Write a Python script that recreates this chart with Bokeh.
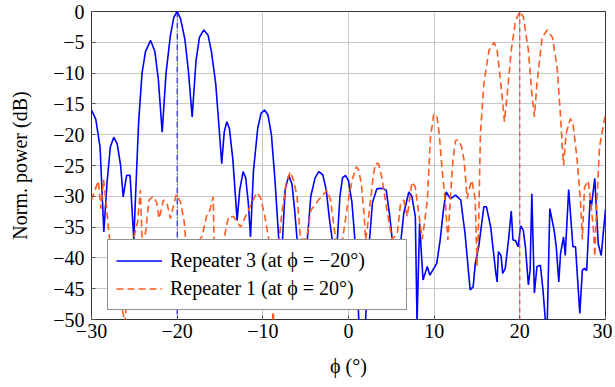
from bokeh.plotting import figure
from bokeh.models import Range1d, Legend, LegendItem, Span, FixedTicker
from bokeh.embed import file_html
from bokeh.resources import INLINE

# Repeater 3 (steered to -20 deg)
r3_phi = [-30, -29.5, -29.0, -28.56, -28.2, -27.8, -27.4, -27.0, -26.6, -26.3, -25.9, -25.5,
          -25.06, -24.8, -24.5, -24.1, -23.7, -23.1, -22.6, -22.2, -21.75, -21.3, -20.8, -20.4,
          -20.0, -19.6, -19.1, -18.7, -18.25, -17.8, -17.4, -16.9, -16.4, -16.0, -15.5, -15.1,
          -14.8, -14.5, -14.2, -13.9, -13.5, -13.0, -12.7, -12.3, -12.0, -11.7, -11.44, -11.1,
          -10.6, -10.2, -9.8, -9.4, -9.0, -8.6, -8.14, -7.9, -7.7, -7.4, -6.97, -6.6, -6.3,
          -6.0, -5.6, -5.2, -4.8, -4.4, -3.9, -3.47, -3.0, -2.6, -2.2, -1.9, -1.6, -1.3, -1.0,
          -0.7, -0.35, 0.0, 0.4, 0.8, 1.2, 1.6, 2.0, 2.4, 2.8, 3.3, 3.9, 4.4, 4.8, 5.1, 5.5,
          5.9, 6.45, 7.04, 7.4, 7.8, 8.0, 8.3, 8.7, 9.2, 9.5, 10.3, 10.7, 11.1, 11.4, 11.9,
          12.5, 13.1, 13.6, 14.2, 14.55, 14.8, 15.2, 15.8, 16.1, 16.6, 17.2, 17.35, 17.5, 17.8,
          18.0, 18.3, 18.7, 19.0, 19.2, 19.5, 19.8, 20.1, 20.4, 20.65, 21.0, 21.2, 21.4, 21.7,
          22.0, 22.4, 22.7, 23.0, 23.2, 23.5, 24.0, 24.25, 24.55, 24.75, 25.1, 25.3, 25.7,
          26.2, 26.5, 27.0, 27.3, 27.55, 27.8, 28.2, 28.35, 28.75, 29.15, 29.5, 30.0]
r3_db = [-16.0, -17.5, -22.0, -35.8, -28.0, -22.0, -20.4, -21.5, -25.0, -30.1, -26.6, -26.6,
         -37.1, -28.0, -18.0, -10.0, -6.5, -4.7, -6.5, -11.0, -19.6, -10.0, -4.0, -1.0,
         0.0, -1.2, -4.5, -9.5, -17.1, -8.0, -4.2, -3.0, -3.8, -6.5, -11.7, -19.0,
         -24.7, -19.5, -17.9, -19.0, -24.0, -33.9, -29.0, -26.0, -27.0, -31.0, -36.6, -26.0,
         -19.0, -16.5, -16.0, -16.8, -20.0, -27.0, -37.0, -45.0, -37.0, -29.0, -26.6, -28.0, -32.0,
         -37.0, -45.0, -42.0, -37.0, -30.0, -27.0, -26.0, -26.5, -29.0, -34.0, -37.0, -43.0, -37.0, -30.0,
         -27.0, -26.6, -27.5, -31.0, -38.0, -50.0, -55.0, -50.0, -38.0, -31.0, -28.8, -28.7, -29.0, -33.0, -37.0, -42.0,
         -40.0, -32.8, -29.3, -30.0, -33.3, -50.5, -34.4, -43.6, -41.4, -42.8, -40.9, -37.1, -32.0, -29.3, -30.4,
         -29.8, -30.6, -36.0, -45.2, -44.7, -40.9, -38.2, -31.7, -31.7, -35.0, -42.5, -43.9, -39.0, -39.6,
         -42.5, -41.7, -36.8, -32.4, -37.1, -37.2, -38.2, -34.8, -35.5, -38.2, -44.4, -42.0, -29.6, -45.7,
         -41.4, -41.2, -45.2, -50.5, -50.5, -32.0, -35.5, -38.2, -43.9, -39.3, -36.6, -39.6, -28.9,
         -38.2, -38.2, -49.0, -42.0, -41.7, -42.1, -30.6, -31.7, -27.1, -37.7, -39.6, -32.1]

# Repeater 1 (steered to +20 deg)
r1_phi = [-30, -29.6, -29.2, -28.9, -28.6, -28.3, -28.0, -27.6, -26.1, -25.8, -25.1, -24.6,
          -24.3, -24.1, -23.7, -23.3, -22.8, -22.4, -22.1, -21.6, -21.2, -20.8, -20.1, -19.6,
          -19.2, -19.0, -18.6, -18.4, -17.6, -17.1, -16.5, -16.2, -15.8, -15.7, -15.2, -14.55,
          -14.0, -13.4, -12.6, -11.4, -10.7, -10.3, -9.8, -9.3, -8.8, -8.3, -7.8, -7.3, -6.8,
          -6.4, -6.0, -5.6, -4.9, -4.4, -3.5, -2.5, -2.1, -1.5, -0.8, 0.03, 0.5, 0.93, 1.2,
          1.5, 1.8, 2.0, 2.3, 2.57, 2.9, 3.15, 3.5, 3.9, 4.3, 4.7, 5.1, 5.7, 6.07, 6.45, 6.86,
          7.4, 7.8, 8.2, 8.6, 8.9, 9.2, 9.57, 9.96, 10.35, 10.6, 10.9, 11.3, 11.6, 11.9, 12.2,
          12.5, 12.9, 13.2, 13.5, 13.85, 14.15, 14.4, 14.8, 15.0, 15.2, 15.4, 15.8, 16.4, 17.0,
          17.35, 17.9, 18.2, 18.5, 19.0, 19.5, 20.0, 20.4, 21.0, 21.4, 21.7, 22.0, 22.6, 23.2,
          23.8, 24.35, 24.7, 25.1, 25.4, 25.9, 26.2, 26.7, 27.1, 27.3, 27.55, 27.97, 28.2, 28.6,
          28.75, 28.95, 29.3, 30.0]
r1_db = [-30.6, -29.0, -27.5, -32.0, -27.3, -31.0, -35.5, -40.0, -50.5, -45.0, -37.0, -34.0,
         -29.0, -36.7, -36.0, -30.6, -30.0, -31.0, -33.6, -30.6, -31.0, -33.6, -29.7, -31.0,
         -33.9, -37.1, -40.0, -37.0, -37.5, -36.5, -32.8, -32.3, -30.1, -37.0, -39.0, -37.0,
         -33.3, -33.3, -35.0, -31.4, -29.4, -30.1, -33.0, -37.0, -50.5, -40.0, -33.0, -28.0, -26.0,
         -27.5, -30.0, -37.0, -37.0, -32.3, -30.6, -29.0, -30.6, -37.0, -38.0, -30.1, -27.0, -25.2, -25.8,
         -28.0, -32.6, -37.1, -34.0, -30.6, -26.5, -24.7, -24.7, -27.0, -30.6, -34.0, -37.0, -36.0, -31.2, -30.6, -33.3,
         -27.7, -28.5, -32.8, -37.0, -34.0, -30.6, -20.4, -16.6, -17.2, -20.0, -25.2, -31.0, -37.1, -30.1, -24.0,
         -20.9, -20.9, -22.0, -24.2, -30.4, -28.5, -27.4, -30.6, -41.4, -34.0, -19.8, -11.7, -6.3, -5.0,
         -6.3, -13.3, -17.9, -13.9, -6.3, -1.5, 0.0, -0.8, -6.3, -13.3, -17.1, -11.7, -4.2, -3.0,
         -4.2, -9.0, -16.0, -25.0, -19.8, -17.4, -18.1, -24.2, -31.2, -37.0, -28.5, -27.5, -30.0, -35.5,
         -39.8, -32.0, -22.0, -16.6]

steer_r3 = -20
steer_r1 = 20
x_ticks = [-30, -20, -10, 0, 10, 20, 30]
y_ticks = [0, -5, -10, -15, -20, -25, -30, -35, -40, -45, -50]
labels = ["Repeater 3 (at ϕ = −20°)", "Repeater 1 (at ϕ = 20°)"]

FONT = "Liberation Serif"
BLUE = "#0000ff"
ORANGE = "#ff5a1f"

p = figure(width=612, height=384, output_backend="svg", toolbar_location=None,
           x_range=Range1d(-30, 30), y_range=Range1d(-50, 0),
           min_border_left=91, min_border_right=7, min_border_top=11, min_border_bottom=65)
p.background_fill_color = "white"
p.border_fill_color = "white"
p.outline_line_color = "#333333"
p.outline_line_width = 1

p.xaxis.ticker = FixedTicker(ticks=x_ticks)
p.yaxis.ticker = FixedTicker(ticks=y_ticks)
p.xaxis.major_label_overrides = {t: str(t).replace("-", "−") for t in x_ticks}
p.yaxis.major_label_overrides = {t: str(t).replace("-", "−") for t in y_ticks}
for ax in (p.xaxis, p.yaxis):
    ax.axis_line_color = None
    ax.major_tick_in = 4
    ax.major_tick_out = 0
    ax.major_tick_line_color = "#555555"
    ax.minor_tick_line_color = None
    ax.major_label_text_font = FONT
    ax.major_label_text_font_size = "20px"
    ax.major_label_text_color = "black"
    ax.axis_label_text_font = FONT
    ax.axis_label_text_font_size = "20px"
    ax.axis_label_text_font_style = "normal"
    ax.axis_label_text_color = "black"
p.xaxis.major_label_standoff = 4
p.yaxis.major_label_standoff = 7
p.xaxis.axis_label = "ϕ (°)"
p.yaxis.axis_label = "Norm. power (dB)"
p.xaxis.axis_label_standoff = 14
p.yaxis.axis_label_standoff = 19

p.xgrid.ticker = FixedTicker(ticks=x_ticks)
p.ygrid.ticker = FixedTicker(ticks=y_ticks)
p.grid.grid_line_color = "#c8c8c8"
p.grid.grid_line_width = 1

l3 = p.line(r3_phi, r3_db, line_color=BLUE, line_width=1.6)
l1 = p.line(r1_phi, r1_db, line_color=ORANGE, line_width=1.6, line_dash="7 4")

p.add_layout(Span(location=steer_r3, dimension="height", line_color=BLUE,
                  line_width=1, line_dash="6 2 1 2"))
p.add_layout(Span(location=steer_r1, dimension="height", line_color="#d83030",
                  line_width=1, line_dash="5 3"))

legend = Legend(items=[LegendItem(label=labels[0], renderers=[l3]),
                       LegendItem(label=labels[1], renderers=[l1])],
                location=(16, 9), orientation="vertical")
legend.label_text_font = FONT
legend.label_text_font_size = "20px"
legend.label_text_color = "black"
legend.glyph_width = 46
legend.glyph_height = 25
legend.label_height = 25
legend.label_width = 228
legend.label_standoff = 8
legend.spacing = 3
legend.padding = 8
legend.margin = 0
legend.border_line_color = "#222222"
legend.border_line_width = 1
legend.background_fill_color = "white"
legend.background_fill_alpha = 1.0
p.add_layout(legend, "center")

open("out.html", "w").write(file_html(p, INLINE))
